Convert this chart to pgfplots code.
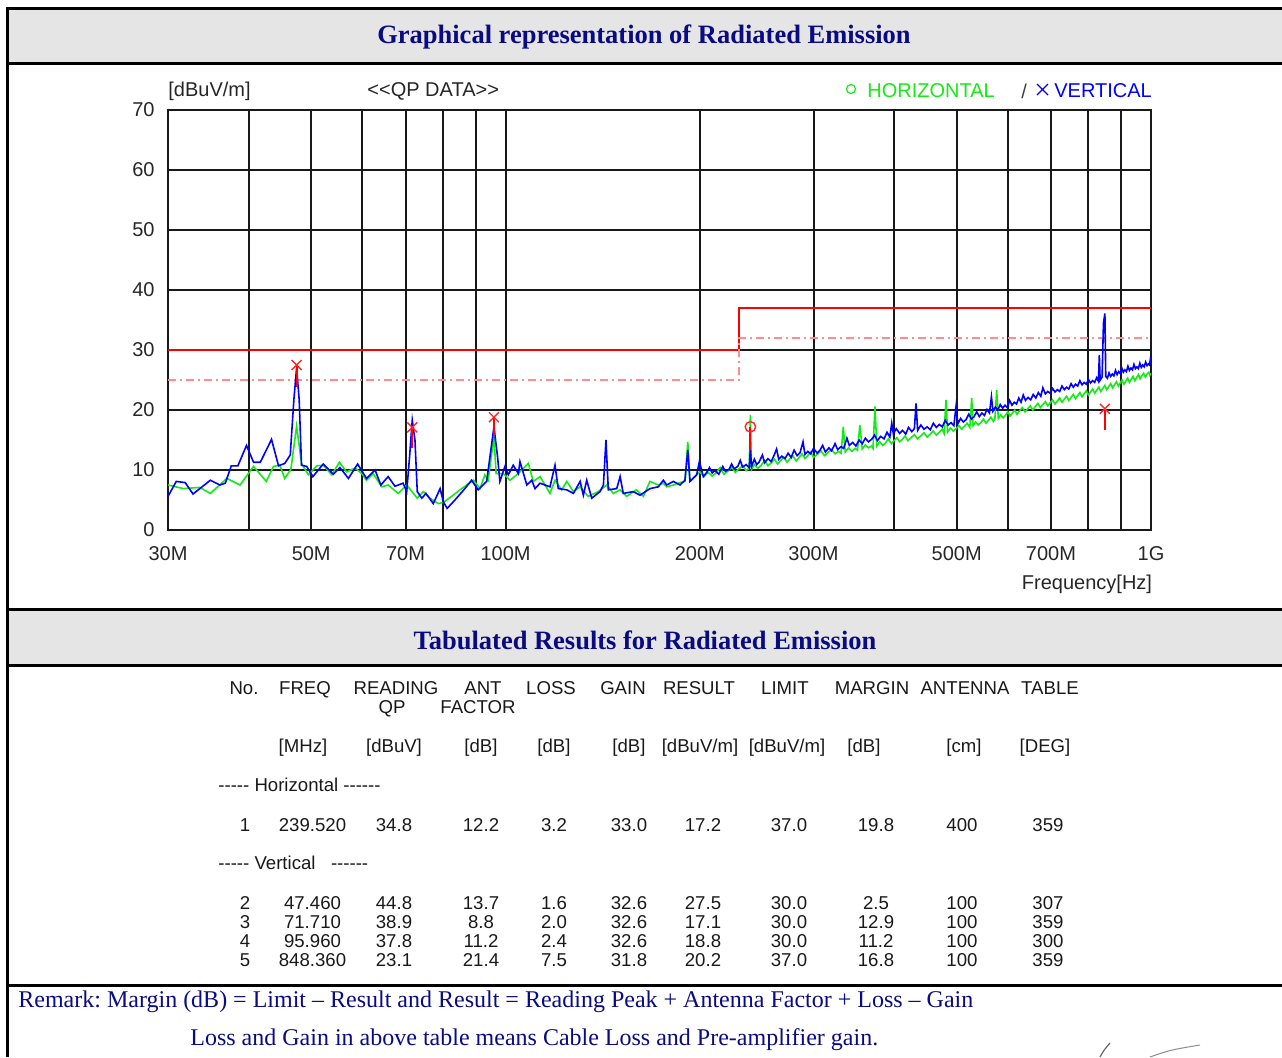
\documentclass[border=0pt]{standalone}
\usepackage{pgfplots}
\pgfplotsset{compat=1.18}
\usepackage{fontspec}
\setmainfont{Liberation Sans}
\newfontfamily\tms{Liberation Serif}
\definecolor{navy}{RGB}{10,10,130}
\definecolor{hgreen}{RGB}{20,235,20}
\definecolor{vblue}{RGB}{0,0,255}
\definecolor{band}{RGB}{229,229,229}
\newcommand\hy{-\kern0pt}
\newcommand\tf{\fontsize{9.3pt}{11pt}\selectfont}
\newcommand\af{\fontsize{10pt}{12pt}\selectfont}
\frenchspacing

\pgfplotstableread{
f v
30 5.6
30.9 8.1
31.9 7.9
32.8 6.0
34.9 8.3
36.1 7.5
36.8 7.8
37.6 10.7
38.5 10.7
39.7 14.1
40.7 11.3
41.7 11.3
43.4 15.1
44.5 10.7
45.5 11.1
46.4 12.5
47.0 21.7
47.46 27.0
47.9 21.7
48.3 10.8
49.2 10.6
50.3 8.9
52.2 11.0
54.1 9.3
55.4 10.4
57.1 8.6
59.0 11.0
60.9 8.6
62.8 10.0
64.1 7.5
65.8 8.9
67.4 7.3
69.4 7.8
70.3 6.4
71.0 12.0
71.71 18.3
72.4 15.0
73.0 6.4
74.2 5.3
75.3 6.1
77.3 4.4
79.2 6.9
80.1 4.7
81.2 3.6
83.5 5.0
86.5 6.9
88.6 8.3
90.7 6.7
93.5 8.1
94.6 12.2
95.96 17.2
97.2 12.2
98.0 8.1
99.8 10.6
101.0 9.2
102.8 10.8
104.7 9.4
105.3 11.4
107.9 7.5
109.8 8.3
111.1 6.9
113.1 7.8
117.2 7.2
119.3 10.8
120.7 6.9
124.4 6.7
127.4 6.1
130.5 8.1
132.0 5.8
133.6 8.3
136.0 5.3
140.1 6.4
141.8 7.5
143.1 15.0
144.3 6.7
148.7 6.9
150.5 8.9
152.2 6.1
157.7 6.4
161.6 5.8
167.4 6.9
172.5 7.2
175.6 8.3
177.7 7.5
182.0 8.1
186.4 7.5
189.7 8.3
191.6 13.3
193.1 8.1
197.8 9.2
199.7 11.4
202.5 8.9
205 9.6
207 10.4
209 9.5
211 9.9
214 9.3
217 10.6
219 9.8
222 10.1
224 11.0
226 10.2
229 10.6
231 11.6
233 10.5
236 10.9
238.5 10.4
239.52 13.4
240.5 10.6
243 11.8
245 10.9
247 11.3
250 12.5
252 11.2
255 11.9
258 11.4
261 12.6
263 13.5
265 11.8
268 12.3
271 11.9
274 12.8
277 12.1
280 13.3
283 12.4
286 12.9
289 14.7
291 12.6
294 13.1
297 12.7
300 13.6
304 12.8
307 13.3
310 14.1
313 13.0
317 13.7
320 13.2
324 14.4
327 13.4
331 13.9
334 13.6
338 15.3
341 14.1
345 14.6
349 14.0
353 15.0
357 14.4
361 15.3
365 14.7
369 15.1
373 15.8
377 14.9
381 15.6
386 15.2
390 16.3
394 15.5
396.6 17.8
399 16.0
403 16.9
408 16.1
412 16.6
417 16.0
421 17.1
426 16.4
430 16.9
432.5 21.1
435 16.6
440 17.5
445 16.8
450 17.2
455 16.7
460 17.8
465 17.1
470 17.6
475 17.2
480 18.3
485 17.5
490 17.9
495 17.4
498.8 20.6
502 17.7
507 18.6
512 18.0
517 18.4
522 19.3
527 18.5
532 18.9
537 19.7
542 18.9
547 19.5
552 19.1
557 20.1
562 19.5
566 22.2
569 19.8
574 20.5
579 20.0
584 20.9
589 20.3
594 20.8
599 20.4
604 21.6
609 20.8
614 21.3
619 21.0
624 22.0
629 21.3
634 22.5
639 21.6
645 22.1
651 21.7
657 22.6
663 22.0
669 22.9
675 22.3
680 23.7
686 22.7
692 23.1
698 22.8
704 23.6
710 23.0
716 23.4
722 23.1
728 24.0
734 23.4
740 23.8
746 23.5
752 24.4
758 23.8
764 24.3
770 24.0
776 24.9
782 24.2
788 24.6
794 24.3
800 25.1
806 24.5
812 24.9
818 24.6
824 25.4
829 24.8
831.7 29.2
834 25.0
840 25.5
844 34.5
848.36 36.1
851 25.6
856 25.3
861 26.2
866 25.6
871 26.0
876 25.7
881 26.6
886 25.9
891 26.4
896 26.1
901 27.0
906 26.3
911 26.7
916 26.4
921 27.3
926 26.6
931 27.0
936 26.7
941 27.6
946 26.9
951 27.2
956 26.9
961 27.8
966 27.1
971 27.5
976 27.2
981 28.0
986 27.4
991 27.7
995 27.5
998 28.6
1000 28.4
}\vertdata

\pgfplotstableread{
f v
30 7.5
31.7 6.9
33.6 7.1
34.9 6.1
37.0 8.6
38.8 7.5
40.7 10.6
42.6 8.1
43.7 10.6
44.7 10.8
45.5 8.6
46.5 10.1
47.46 17.3
48.3 11.1
49.5 9.2
51.0 10.7
52.2 10.8
53.8 9.2
55.3 11.3
56.7 9.7
58.5 10.3
59.9 9.4
60.9 8.3
62.4 9.4
64.3 7.2
65.8 7.5
68.2 6.1
70.3 7.5
73.0 5.3
74.6 6.4
76.4 5.3
78.7 4.4
80.1 4.6
82.5 5.6
85.0 6.7
89.2 8.3
91.3 6.9
92.9 9.2
94.0 8.3
95.96 15.6
96.7 9.4
99.2 9.4
101.6 8.3
104.1 9.2
108.5 11.1
110.4 8.1
113.1 8.9
117.2 6.1
119.3 8.3
122.2 6.7
124.4 8.1
127.4 6.4
130.5 7.2
134.3 5.6
139.2 6.4
143.5 7.5
146.9 6.1
150.5 6.7
154.0 5.6
159.6 6.7
163.5 5.6
167.4 8.1
172.5 7.5
175.6 7.8
177.7 7.2
182.0 7.5
186.4 7.9
189.7 8.1
191.6 14.7
193.1 8.1
196 8.8
200 9.7
203 8.9
206 9.6
209 9.0
212 9.5
215 10.4
218 9.3
221 9.8
224 10.5
227 9.6
230 10.2
233 10.7
236 9.9
238.5 10.3
239.52 19.2
240.5 10.1
243 10.9
246 10.3
249 10.8
252 11.6
255 10.7
258 11.2
261 11.8
264 11.0
267 11.6
270 12.1
273 11.3
276 11.9
279 12.3
282 11.5
285 12.1
288 12.7
291 11.9
294 12.4
297 13.0
300 12.1
304 12.6
308 13.2
312 12.4
316 12.9
320 13.4
324 12.7
328 13.1
331 12.8
333.7 17.2
336 13.0
340 13.7
344 13.1
348 13.6
351 13.3
354 17.5
357 13.5
361 14.2
365 13.7
369 14.0
371 13.6
373.6 20.6
376 14.0
380 14.7
384 14.1
388 14.5
392 15.2
396 14.4
400 14.9
404 15.4
408 14.7
412 15.1
416 15.7
420 14.9
425 15.4
430 15.9
435 15.2
440 15.7
445 16.2
450 15.5
455 16.0
460 16.5
465 15.8
470 16.3
475 16.8
478 16.1
481.3 21.7
484 16.3
489 17.0
494 16.5
499 16.9
504 17.4
509 16.8
514 17.3
519 17.8
524 17.1
527.5 22.0
530 17.4
535 18.0
540 17.5
545 17.9
550 18.5
555 17.8
560 18.3
565 18.8
570 18.1
573 18.5
576.7 23.3
580 18.6
585 19.2
590 18.7
595 19.1
600 19.7
605 19.0
610 19.5
615 20.0
620 19.3
626 19.9
632 20.4
638 19.7
644 20.2
650 20.7
656 20.0
662 20.6
668 21.1
674 20.4
680 20.9
686 21.4
692 20.7
698 21.2
704 21.7
710 21.0
716 21.5
722 22.0
728 21.3
734 21.8
740 22.3
746 21.6
752 22.1
758 22.6
764 21.9
770 22.4
776 22.9
782 22.2
788 22.7
794 23.2
800 22.5
806 23.0
812 23.5
818 22.8
824 23.3
830 23.8
836 23.1
842 23.6
848 24.1
854 23.4
860 23.9
866 24.4
872 23.7
878 24.2
884 24.7
890 24.0
896 24.5
902 25.0
908 24.3
914 24.8
920 25.3
926 24.6
932 25.1
938 25.6
944 24.9
950 25.4
956 25.9
962 25.2
968 25.7
974 26.1
980 25.5
986 26.0
992 26.3
996 25.8
1000 26.1
}\hordata

\begin{document}
\begin{tikzpicture}
\begin{scope}[x=0.5pt,y=-0.5pt]
\path[use as bounding box] (0,0) rectangle (1282,1057);
% bands
\fill[band] (7,8) rectangle (1282,63);
\fill[band] (7,609) rectangle (1282,665);
\draw[line width=1.5pt] (1282,8) -- (7,8) -- (7,1057);
\draw[line width=1.5pt] (7,63) -- (1282,63);
\draw[line width=1.5pt] (7,609) -- (1282,609);
\draw[line width=1.5pt] (7,665) -- (1282,665);
\draw[line width=1.5pt] (7,985) -- (1282,985);
% titles
\node[text=navy, font=\tms\bfseries\fontsize{13.25pt}{15pt}\selectfont] at (644,37) {Graphical representation of Radiated Emission};
\node[text=navy, font=\tms\bfseries\fontsize{13.25pt}{15pt}\selectfont] at (645,640) {Tabulated Results for Radiated Emission};
% plot annotations
\node[anchor=west, inner sep=0pt, font=\af, text=black!85] at (168,91) {[dBuV/m]};
\node[anchor=west, inner sep=0pt, font=\af, text=black!85] at (367,91) {<\kern0pt<QP DATA>\kern0pt>};
\draw[hgreen, line width=0.6pt] (851,89) circle (4.5);
\node[anchor=west, inner sep=0pt, font=\af, text=hgreen] at (867,91) {HORIZONTAL};
\node[anchor=west, inner sep=0pt, font=\af, text=black!75] at (1021,91) {/};
\draw[vblue, line width=0.6pt] (1037,84) -- (1048,95) (1037,95) -- (1048,84);
\node[anchor=west, inner sep=0pt, font=\af, text=vblue] at (1054,91) {VERTICAL};
\node[font=\af, text=black!85] at (1087,584) {Frequency[Hz]};
% table
\begin{scope}[every node/.style={font=\tf, text=black!90, inner sep=0pt, anchor=base}]
\node at (244,694.5) {No.};
\node at (305,694.5) {FREQ};
\node at (396,694.5) {READING};
\node at (392,713.5) {QP};
\node at (483,694.5) {ANT};
\node at (478,713.5) {FACTOR};
\node at (551,694.5) {LOSS};
\node at (623,694.5) {GAIN};
\node at (699,694.5) {RESULT};
\node at (785,694.5) {LIMIT};
\node at (872,694.5) {MARGIN};
\node at (965,694.5) {ANTENNA};
\node at (1050,694.5) {TABLE};
\node at (303,752.5) {[MHz]};
\node at (394,752.5) {[dBuV]};
\node at (481,752.5) {[dB]};
\node at (554,752.5) {[dB]};
\node at (629,752.5) {[dB]};
\node at (700,752.5) {[dBuV/m]};
\node at (787,752.5) {[dBuV/m]};
\node at (864,752.5) {[dB]};
\node at (964,752.5) {[cm]};
\node at (1045,752.5) {[DEG]};
\node[anchor=base west] at (218,791.5) {\hy\hy\hy\hy\hy\ Horizontal \hy\hy\hy\hy\hy\hy};
\node[anchor=base west] at (218,869.5) {\hy\hy\hy\hy\hy\ Vertical\ \ \ \hy\hy\hy\hy\hy\hy};
\foreach \y/\a/\b/\c/\d/\e/\f/\g/\h/\i/\j/\k in {
 831.5/1/239.520/34.8/12.2/3.2/33.0/17.2/37.0/19.8/400/359,
 909.5/2/47.460/44.8/13.7/1.6/32.6/27.5/30.0/2.5/100/307,
 928.5/3/71.710/38.9/8.8/2.0/32.6/17.1/30.0/12.9/100/359,
 947.5/4/95.960/37.8/11.2/2.4/32.6/18.8/30.0/11.2/100/300,
 966.5/5/848.360/23.1/21.4/7.5/31.8/20.2/37.0/16.8/100/359}{
 \node at (245,\y) {\a};
 \node at (312.5,\y) {\b};
 \node at (394,\y) {\c};
 \node at (481,\y) {\d};
 \node at (554,\y) {\e};
 \node at (629,\y) {\f};
 \node at (703,\y) {\g};
 \node at (789,\y) {\h};
 \node at (876,\y) {\i};
 \node at (962,\y) {\j};
 \node at (1048,\y) {\k};
}
\end{scope}
% remarks
\node[anchor=west, inner sep=0pt, text=navy, font=\tms\fontsize{12pt}{14pt}\selectfont] at (18,1002) {Remark: Margin (dB) = Limit – Result and Result = Reading Peak + Antenna Factor + Loss – Gain};
\node[anchor=west, inner sep=0pt, text=navy, font=\tms\fontsize{12pt}{14pt}\selectfont] at (190,1040) {Loss and Gain in above table means Cable Loss and Pre-amplifier gain.};
% signature strokes
\draw[black!60, line width=0.6pt] (1100,1057) .. controls (1104,1050) .. (1110,1043);
\draw[black!45, line width=0.5pt] (1150,1057) .. controls (1170,1050) .. (1200,1045);
\end{scope}

\begin{axis}[
  at={(84pt,-265pt)}, anchor=south west,
  scale only axis, width=491.5pt, height=210pt,
  xmode=log, log basis x=10,
  xmin=30, xmax=1000, ymin=0, ymax=70,
  xtick={30,40,50,60,70,80,90,100,200,300,400,500,600,700,800,900,1000},
  xticklabels={30M,,50M,,70M,,,100M,200M,300M,,500M,,700M,,,1G},
  ytick={0,10,20,30,40,50,60,70},
  /pgf/number format/assume math mode=true,
  major tick length=0pt,
  grid=major,
  major grid style={black!90, line width=1pt},
  axis line style={black!90, line width=1pt},
  tick label style={font=\af, text=black!85},
  xticklabel style={anchor=base, yshift=-15pt},
  yticklabel style={anchor=east, inner sep=0pt, xshift=-6.5pt},
  clip=false,
]
\addplot[red, line width=0.9pt] coordinates {(30,30) (230,30) (230,37) (1000,37)};
\addplot[red!45, line width=0.8pt, dash pattern=on 4pt off 2pt on 1pt off 2pt] coordinates {(30,25) (230,25) (230,32) (1000,32)};
\addplot[hgreen, line width=0.8pt] table[x=f, y=v] {\hordata};
\addplot[vblue, line width=0.8pt] table[x=f, y=v] {\vertdata};
\addplot[red, line width=1pt] coordinates {(47.46,27.5) (47.46,23.9)};
\addplot[red, line width=1pt] coordinates {(71.71,17.1) (71.71,13.6)};
\addplot[red, line width=1pt] coordinates {(95.96,18.8) (95.96,15.6)};
\addplot[red, line width=1pt] coordinates {(239.52,17.2) (239.52,13.3)};
\addplot[red, line width=1pt] coordinates {(848.36,20.2) (848.36,16.7)};
\addplot[only marks, mark=x, mark size=3.5pt, red!85, mark options={line width=0.7pt}] coordinates {(47.46,27.5) (71.71,17.1) (95.96,18.8) (848.36,20.2)};
\addplot[only marks, mark=o, mark size=2.6pt, red!85, mark options={line width=0.7pt}] coordinates {(239.52,17.2)};
\end{axis}
\end{tikzpicture}
\end{document}
